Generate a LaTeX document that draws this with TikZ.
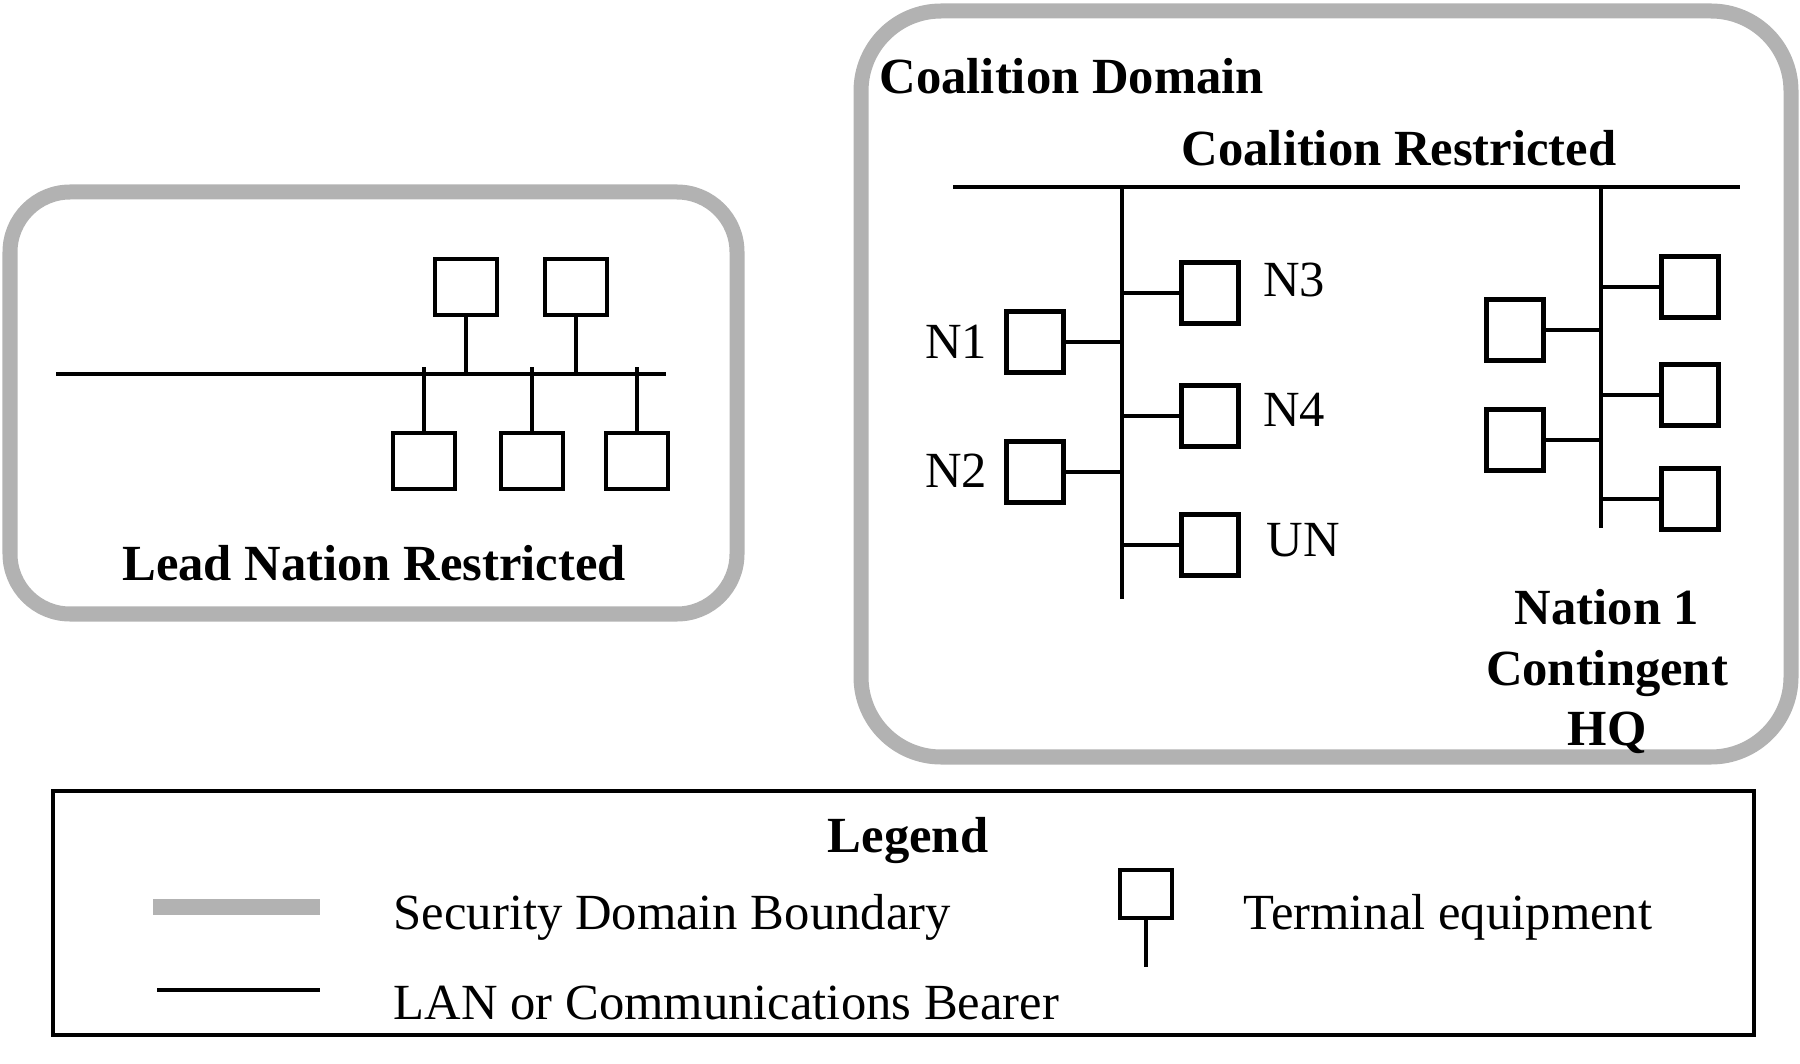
\documentclass[tikz,border=0pt]{standalone}
\usepackage{fontspec}
\setmainfont{Liberation Serif}
\definecolor{boundgray}{RGB}{178,178,178}
\begin{document}
\begin{tikzpicture}[x=0.01cm,y=-0.01cm,
  bound/.style={draw=boundgray, line width=0.15cm},
  bus/.style={line width=0.9pt},
  termL/.style={draw, line width=1.3pt, minimum width=0.62cm, minimum height=0.56cm, inner sep=0pt},
  termR/.style={draw, line width=1.3pt, minimum width=0.57cm, minimum height=0.61cm, inner sep=0pt},
  lbl/.style={anchor=base, inner sep=0pt, font=\fontsize{14.4}{17}\selectfont},
  blbl/.style={anchor=base, inner sep=0pt, font=\fontsize{14.4}{17}\selectfont\bfseries}]
\useasboundingbox (0,0) rectangle (1800,1064);

% security domain boundaries
\draw[bound, rounded corners=0.6cm] (10,192) rectangle (737,614);
\draw[bound, rounded corners=0.8cm] (861,11) rectangle (1791,757);

% ---- Lead Nation Restricted LAN
\coordinate (lbusW) at (56,374);
\coordinate (lbusE) at (666,374);
\draw[bus] (lbusW) -- (lbusE);
\node[termL] (lt1) at (466,287) {};
\node[termL] (lt2) at (576,287) {};
\node[termL] (lb1) at (424,461) {};
\node[termL] (lb2) at (532,461) {};
\node[termL] (lb3) at (637,461) {};
\foreach \t in {lt1,lt2} \draw[bus] (\t.south) -- (\t |- lbusW);
\foreach \t in {lb1,lb2,lb3} \draw[bus] (\t.north) -- ([yshift=2pt]\t |- lbusW);
\node[blbl] (lnr) at (374,580) {Lead Nation Restricted};

% ---- Coalition Domain
\node[blbl, anchor=base west] (cdom) at (879,94) {Coalition Domain};
\node[blbl] (cres) at (1399,166) {Coalition Restricted};
\coordinate (cbusW) at (953,187);
\coordinate (cbusE) at (1740,187);
\coordinate (v1b) at (1122,599);
\coordinate (v2b) at (1601,528);
\draw[bus] (cbusW) -- (cbusE);
\draw[bus] (v1b |- cbusW) -- (v1b);
\draw[bus] (v2b |- cbusW) -- (v2b);

\node[termR] (n1) at (1035,342) {};
\node[termR] (n2) at (1035,472) {};
\node[termR] (n3) at (1210,293) {};
\node[termR] (n4) at (1210,416) {};
\node[termR] (un) at (1210,545) {};
\foreach \t in {n1,n2} \draw[bus] (\t.east) -- (\t.east -| v1b);
\foreach \t in {n3,n4,un} \draw[bus] (\t.west) -- (\t.west -| v1b);
\node[lbl] (ln1) at (956,359) {N1};
\node[lbl] (ln2) at (956,488) {N2};
\node[lbl] (ln3) at (1294,297) {N3};
\node[lbl] (ln4) at (1294,427) {N4};
\node[lbl] (lun) at (1303,557) {UN};

\node[termR] (ha) at (1515,330) {};
\node[termR] (hb) at (1515,440) {};
\node[termR] (hc) at (1690,287) {};
\node[termR] (hd) at (1690,395) {};
\node[termR] (he) at (1690,499) {};
\foreach \t in {ha,hb} \draw[bus] (\t.east) -- (\t.east -| v2b);
\foreach \t in {hc,hd,he} \draw[bus] (\t.west) -- (\t.west -| v2b);
\node[blbl] (hq1) at (1607,624) {Nation 1};
\node[blbl] (hq2) at (1607,685) {Contingent};
\node[blbl] (hq3) at (1607,745) {HQ};

% ---- Legend
\draw[line width=1pt] (53,791) rectangle (1754,1035);
\node[blbl] (leg) at (908,852) {Legend};
\coordinate (g1) at (153,907);
\coordinate (g2) at (320,907);
\draw[draw=boundgray, line width=0.16cm] (g1) -- (g2);
\coordinate (k1) at (157,990);
\coordinate (k2) at (320,990);
\draw[bus] (k1) -- (k2);
\node[lbl, anchor=base west] (lsd) at (393,929) {Security Domain Boundary};
\node[lbl, anchor=base west] (llan) at (393,1019) {LAN or Communications Bearer};
\node[draw, line width=1.3pt, minimum width=0.52cm, minimum height=0.48cm, inner sep=0pt] (lterm) at (1146,894) {};
\coordinate (lstem) at (1146,967);
\draw[bus] (lterm.south) -- (lstem);
\node[lbl, anchor=base west] (lte) at (1243,929) {Terminal equipment};
\end{tikzpicture}
\end{document}
